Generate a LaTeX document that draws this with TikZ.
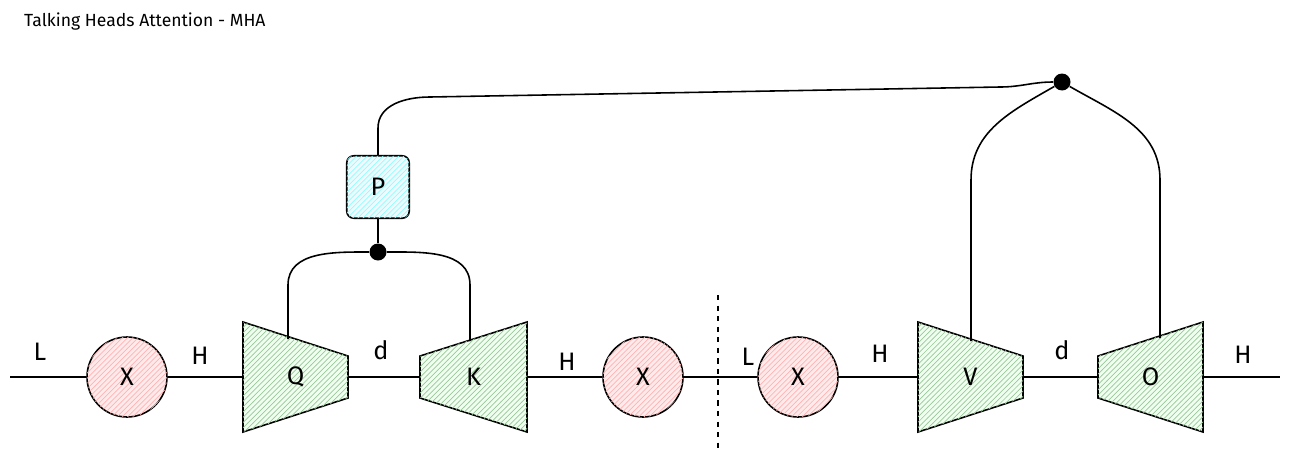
\documentclass[tikz,border=0pt]{standalone}
\usepackage{fontspec}
\setmainfont{Fira Sans}
\usetikzlibrary{patterns, positioning, calc}

\tikzset{
  wire/.style={black, line width=0.9pt},
  mix/.style={circle, draw, line width=0.9pt, minimum size=1.6cm, fill=red!8,
    postaction={pattern=north east lines, pattern color=red!30}, font=\Large},
  proj/.style={draw, line width=0.9pt, fill=green!6,
    postaction={pattern=north east lines, pattern color=green!45!black!40}},
  mixbox/.style={draw, rounded corners=4pt, line width=0.9pt, minimum size=1.25cm,
    fill=cyan!6, postaction={pattern=north east lines, pattern color=cyan!45}, font=\Large},
  dot/.style={circle, fill=black, inner sep=0pt, minimum size=0.34cm},
  dim/.style={font=\Large},
}

% trapezoid: left x, right x, left half height, right half height
\newcommand{\trap}[5]{%
  \path[proj] (#1,377-#3) -- (#2,377-#4) -- (#2,377+#4) -- (#1,377+#3) -- cycle;
  \node[font=\Large] (#5) at ({(#1+#2)/2},377) {#5};
}

\begin{document}
\begin{tikzpicture}[x=0.02cm, y=-0.02cm]
  \useasboundingbox (0,0) rectangle (1290,460);

  \node[anchor=west] (title) at (18,22) {Talking Heads Attention - MHA};

  % left half
  \coordinate (in1) at (10,377);
  \node[mix] (x1) at (127,377) {X};
  \trap{243}{348}{55}{21}{Q}
  \trap{420}{527}{21}{55}{K}
  \node[mix] (x2) at (643,377) {X};
  \draw[wire] (in1) -- (x1) -- (243,377);
  \draw[wire] (348,377) -- (420,377);
  \draw[wire] (527,377) -- (x2);

  % right half
  \node[mix] (x3) at (798,377) {X};
  \trap{918}{1023}{55}{21}{V}
  \trap{1098}{1203}{21}{55}{O}
  \coordinate (out) at (1280,377);
  \draw[wire] (x2) -- (x3) -- (918,377);
  \draw[wire] (1023,377) -- (1098,377);
  \draw[wire] (1203,377) -- (out);

  \draw[wire, dashed] (718,295) -- (718,452);

  % dimension labels
  \node[dim] (l1) at (40,352) {L};
  \node[dim] (h1) at (200,356) {H};
  \node[dim] (d1) at (381,350) {d};
  \node[dim] (h2) at (567,362) {H};
  \node[dim] (l2) at (748,357) {L};
  \node[dim] (h3) at (880,354) {H};
  \node[dim] (d2) at (1062,350) {d};
  \node[dim] (h4) at (1243,355) {H};

  % talking heads mixing
  \node[dot] (qk) at (378,252) {};
  \node[mixbox] (P) at (378,187) {P};
  \node[dot] (vo) at (1062,82) {};
  \draw[wire] (288,339) -- (288,285) to[out=90, in=180] (qk.west);
  \draw[wire] (470,341) -- (470,285) to[out=90, in=0] (qk.east);
  \draw[wire] (qk) -- (P);
  \draw[wire] (P.north) -- (378,128) to[out=90, in=180] (430,97) -- (1000,87) to[out=0, in=180] (vo);
  \draw[wire] (971,341) -- (971,180) to[out=90, in=-150] (vo);
  \draw[wire] (1160,338) -- (1160,180) to[out=90, in=-30] (vo);
\end{tikzpicture}
\end{document}
